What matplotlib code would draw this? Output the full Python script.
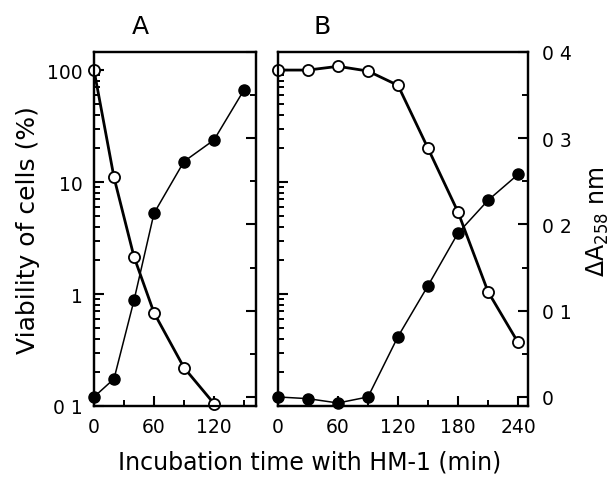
import matplotlib
matplotlib.use("Agg")
import matplotlib.pyplot as plt
from matplotlib.ticker import MultipleLocator, FixedLocator, NullFormatter

plt.rcParams["font.family"] = ["DejaVu Sans"]

# Panel A: viability (open, log) and A258 (filled, linear)
a_time_open = [0, 20, 40, 60, 90, 120]
a_viab = [100, 11, 2.15, 0.68, 0.22, 0.105]
a_time_fill = [0, 20, 40, 60, 90, 120, 150]
a_abs = [0.0, 0.021, 0.112, 0.213, 0.273, 0.298, 0.356]

# Panel B
b_time = [0, 30, 60, 90, 120, 150, 180, 210, 240]
b_viab = [100, 100, 108, 98, 73, 20, 5.4, 1.05, 0.37]
b_abs = [0.0, -0.002, -0.007, 0.0, 0.07, 0.129, 0.19, 0.228, 0.258]

a_xticks = [0, 60, 120]
b_xticks = [0, 60, 120, 180, 240]
log_ticks = [0.1, 1, 10, 100]
log_labels = ["0 1", "1", "10", "100"]
abs_ticks = [0, 0.1, 0.2, 0.3, 0.4]
abs_labels = ["0", "0 1", "0 2", "0 3", "0 4"]

# minor log ticks 2..9 in each decade
log_minor = [m * d for d in log_ticks[:-1] for m in range(2, 10)]

fig = plt.figure(figsize=(6.12, 4.81), dpi=100)
ax_a = fig.add_axes([94 / 612, 74 / 481, 162 / 612, 354 / 481])
ax_b = fig.add_axes([278 / 612, 74 / 481, 250 / 612, 354 / 481])

ylog = (0.1, 145)
ylin = (-0.0105, 0.4)


def style(ax):
    for s in ax.spines.values():
        s.set_linewidth(1.6)
    ax.tick_params(which="major", direction="in", length=7.5, width=1.5, labelsize=13.5, pad=8)
    ax.tick_params(which="minor", direction="in", length=4.5, width=1.4)


def draw(ax, t_open, viab, t_fill, absb, xmax, xticks, show_left, show_right):
    ax.set_yscale("log")
    ax.set_ylim(*ylog)
    ax.set_xlim(0, xmax)
    ax.yaxis.set_major_locator(FixedLocator(log_ticks))
    ax.yaxis.set_minor_locator(FixedLocator(log_minor))
    ax.yaxis.set_minor_formatter(NullFormatter())
    ax.set_yticklabels(log_labels if show_left else [])
    ax.set_xticks(xticks)
    ax.xaxis.set_minor_locator(MultipleLocator(30))
    ax.plot(t_open, viab, "-", color="black", lw=2.0, marker="o", ms=8,
            mfc="white", mec="black", mew=1.3, clip_on=False, zorder=4)
    style(ax)

    ax2 = ax.twinx()
    ax2.set_ylim(*ylin)
    ax2.set_yticks(abs_ticks)
    ax2.yaxis.set_minor_locator(MultipleLocator(0.05))
    ax2.set_yticklabels(abs_labels if show_right else [])
    ax2.plot(t_fill, absb, "-", color="black", lw=1.1, marker="o", ms=8,
             mfc="black", mec="black", clip_on=False, zorder=4)
    style(ax2)
    ax2.tick_params(which="major", pad=10)

    ax.tick_params(which="both", left=True, right=False, top=False, bottom=True)
    ax2.tick_params(which="both", left=False, right=True, top=False, bottom=False)
    return ax2


draw(ax_a, a_time_open, a_viab, a_time_fill, a_abs, 162, a_xticks, True, False)
draw(ax_b, b_time, b_viab, b_time, b_abs, 250, b_xticks, False, True)

ax_a.set_ylabel("Viability of cells (%)", fontsize=18, labelpad=5)
fig.text(598 / 612, 1 - 222 / 481, r"$\mathregular{\Delta A_{258}}$ nm", rotation=90,
         ha="center", va="center", fontsize=17)
fig.text(140 / 612, 1 - 27 / 481, "A", ha="center", va="center", fontsize=18)
fig.text(322 / 612, 1 - 27 / 481, "B", ha="center", va="center", fontsize=18)
fig.text(310 / 612, 1 - 463 / 481, "Incubation time with HM-1 (min)",
         ha="center", va="center", fontsize=17)

fig.savefig("out.png", dpi=100)
